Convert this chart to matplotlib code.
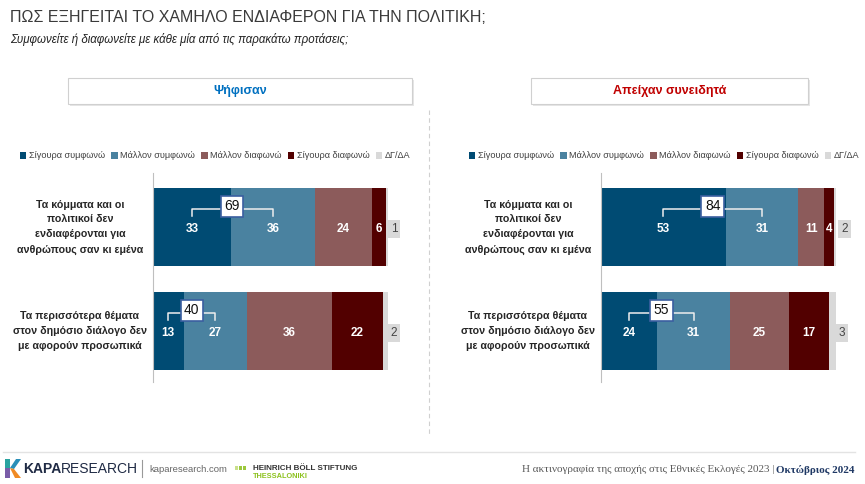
import matplotlib.pyplot as plt
import matplotlib.transforms as mtransforms
from matplotlib.patches import Rectangle, Polygon
from matplotlib.lines import Line2D
import numpy as np

# data
categories = ["Σίγουρα συμφωνώ", "Μάλλον συμφωνώ", "Μάλλον διαφωνώ", "Σίγουρα διαφωνώ", "ΔΓ/ΔΑ"]
colors = ["#004b73", "#4a82a0", "#8c5b5b", "#520000", "#d9d9d9"]
statements = [
    "Τα κόμματα και οι\nπολιτικοί δεν\nενδιαφέρονται για\nανθρώπους σαν κι εμένα",
    "Τα περισσότερα θέματα\nστον δημόσιο διάλογο δεν\nμε αφορούν προσωπικά",
]
voted = [[33, 36, 24, 6, 1], [13, 27, 36, 22, 2]]
abstained = [[53, 31, 11, 4, 2], [24, 31, 25, 17, 3]]
panel_titles = ["Ψήφισαν", "Απείχαν συνειδητά"]
panel_title_colors = ["#0070c0", "#c00000"]

W, H = 865, 484
plt.rcParams["font.family"] = ["Liberation Sans", "DejaVu Sans"]
fig = plt.figure(figsize=(W / 100, H / 100), dpi=100)


def fx(px):
    return px / W


def fy(py):
    return 1 - py / H


def right_edge(t):
    fig.canvas.draw()
    return t.get_window_extent().x1 / fig.dpi / fig.get_figwidth()


# title
fig.text(fx(10), fy(17), "ΠΩΣ ΕΞΗΓΕΙΤΑΙ ΤΟ ΧΑΜΗΛΟ ΕΝΔΙΑΦΕΡΟΝ ΓΙΑ ΤΗΝ ΠΟΛΙΤΙΚΗ;",
         fontsize=11.5, color="#3a3a3a", va="center", ha="left")
fig.text(fx(10), fy(39), "Συμφωνείτε ή διαφωνείτε με κάθε μία από τις παρακάτω προτάσεις;",
         fontsize=8.3, style="italic", color="#222222", va="center", ha="left")


def panel(data, axis_px, label_cx, legend_px, box_px, title, tcolor):
    top, bottom = 173, 382
    ax = fig.add_axes([fx(axis_px), fy(bottom), fx(235), (bottom - top) / H])
    y = np.arange(len(data))
    arr = np.array(data)
    left = np.zeros(len(data))
    for j, cat in enumerate(categories):
        ax.barh(y, arr[:, j], left=left, height=0.75, color=colors[j], label=cat)
        for i in y:
            v = arr[i, j]
            if j < 4:
                ax.text(left[i] + v / 2, i + 0.02, str(v), ha="center", va="center",
                        color="white", fontsize=8.5, fontweight="bold")
            else:
                ax.text(left[i] + v + 1.2, i + 0.02, str(v), ha="left", va="center",
                        color="#444444", fontsize=8.5,
                        bbox=dict(boxstyle="square,pad=0.25", fc="#d9d9d9", ec="none"))
        left += arr[:, j]
    # bracket with combined agree
    for i in y:
        a, b = arr[i, 0], arr[i, 1]
        c1, c2 = a / 2, a + b / 2
        yb = i - 0.17
        ax.plot([c1, c1, c2, c2], [yb + 0.06, yb, yb, yb + 0.06], color="#eeeeee", lw=1.1)
        ax.text((c1 + c2) / 2, yb - 0.03, str(a + b), ha="center", va="center",
                fontsize=10, color="#111111",
                bbox=dict(boxstyle="square,pad=0.25", fc="white", ec="#3b5fa0", lw=1.2))
    ax.set_xlim(0, 100)
    ax.set_ylim(len(data) - 0.51, -0.52)
    for s in ["top", "right", "bottom"]:
        ax.spines[s].set_visible(False)
    ax.spines["left"].set_color("#bfbfbf")
    ax.set_xticks([])
    ax.set_yticks([])
    tr = mtransforms.blended_transform_factory(fig.transFigure, ax.transData)
    for i, s in enumerate(statements):
        ax.text(fx(label_cx), i, s, transform=tr, ha="center", va="center",
                fontsize=7.7, fontweight="bold", color="#262626", linespacing=1.62)
    # legend
    handles = [Rectangle((0, 0), 1, 1, fc=c, ec="none") for c in colors]
    fig.legend(handles, categories, loc="center left",
               bbox_to_anchor=(fx(legend_px), fy(156)), ncol=5, frameon=False,
               fontsize=6.6, handlelength=0.7, handleheight=0.7, handletextpad=0.25,
               columnspacing=0.7, borderaxespad=0, borderpad=0,
               labelcolor="#404040")
    # header box
    x0, x1 = box_px
    fig.patches.append(Rectangle((fx(x0 + 1.5), fy(106)), fx(x1 - x0), (104 - 78) / H,
                                 transform=fig.transFigure, fc="#e6e6e6", ec="none"))
    fig.patches.append(Rectangle((fx(x0), fy(104)), fx(x1 - x0), (104 - 78) / H,
                                 transform=fig.transFigure, fc="white", ec="#d0d0d0", lw=0.8))
    fig.text(fx((x0 + x1) / 2), fy(91), title, ha="center", va="center",
             fontsize=9, fontweight="bold", color=tcolor)
    return ax


panel(voted, 153, 80, 20, (68, 412), panel_titles[0], panel_title_colors[0])
panel(abstained, 601, 528, 469, (531, 808), panel_titles[1], panel_title_colors[1])

# divider
fig.add_artist(Line2D([fx(429), fx(429)], [fy(110), fy(435)], color="#d0d0d0",
                      lw=0.8, ls=(0, (4, 3))))
# footer line
fig.add_artist(Line2D([fx(3), fx(855)], [fy(452), fy(452)], color="#e3e3e3", lw=1))

# KAPA logo (simple K)
k = [
    ([(5, 459), (10, 459), (10, 478), (5, 478)], "#7a5ca8"),
    ([(5, 459), (10, 459), (10, 468), (5, 468)], "#2aa3a0"),
    ([(10, 468), (16, 459), (21, 459), (14, 469)], "#2a8fb8"),
    ([(10, 468), (14, 469), (21, 478), (15, 478)], "#f08a24"),
]
for pts, c in k:
    fig.patches.append(Polygon([(fx(a), fy(b)) for a, b in pts], closed=True,
                               transform=fig.transFigure, fc=c, ec="none"))
kt = fig.text(fx(23), fy(469), "KAPA", fontsize=10, fontweight="bold", color="#1f2a44",
              va="center", ha="left")
fig.text(right_edge(kt), fy(469), "RESEARCH", fontsize=10, color="#1f2a44",
         va="center", ha="left")
fig.add_artist(Line2D([fx(142), fx(142)], [fy(460), fy(477)], color="#999999", lw=0.8))
fig.text(fx(149), fy(469), "kaparesearch.com", fontsize=6.8, color="#666666",
         va="center", ha="left")
for n, c in enumerate(["#c9e08a", "#9cc83c", "#9cc83c"]):
    fig.patches.append(Rectangle((fx(235 + n * 4), fy(470)), fx(3), 4 / H,
                                 transform=fig.transFigure, fc=c, ec="none"))
fig.text(fx(253), fy(468), "HEINRICH BÖLL STIFTUNG", fontsize=5.8, fontweight="bold",
         color="#333333", va="center", ha="left")
fig.text(fx(253), fy(477), "THESSALONIKI", fontsize=5.3, fontweight="bold",
         color="#8dc21f", va="center", ha="left")

t1 = fig.text(fx(855), fy(470), "Οκτώβριος 2024", fontsize=8, fontweight="bold",
              color="#1f3864", va="center", ha="right", family=["Liberation Serif", "DejaVu Serif"])
fig.canvas.draw()
bb = t1.get_window_extent()
fig.text(bb.x0 / fig.dpi / fig.get_figwidth() - fx(2), fy(470),
         "Η ακτινογραφία της αποχής στις Εθνικές Εκλογές 2023 |", fontsize=8,
         color="#595959", va="center", ha="right", family=["Liberation Serif", "DejaVu Serif"])

fig.savefig("out.png", dpi=100)
